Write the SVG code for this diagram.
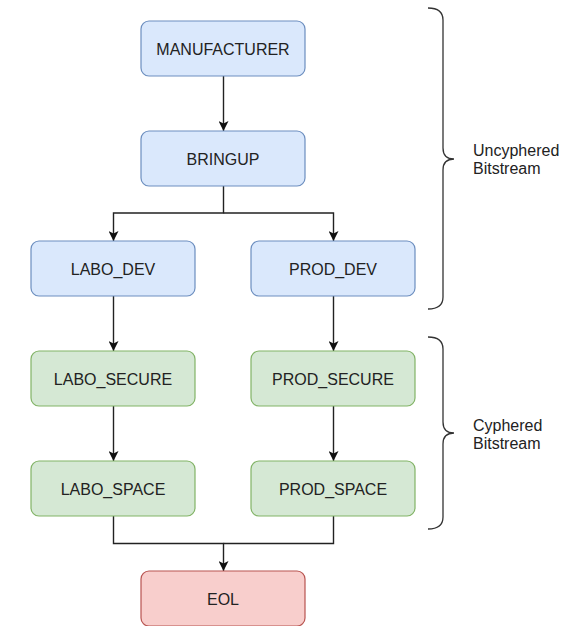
<svg xmlns="http://www.w3.org/2000/svg" width="582" height="626" viewBox="0 0 582 626">
  <style>
    .node rect { stroke-width: 1.2; }
    .blue rect { fill: #dae8fc; stroke: #6c8ebf; }
    .green rect { fill: #d5e8d4; stroke: #82b366; }
    .red rect { fill: #f8cecc; stroke: #b85450; }
    text { font-family: "Liberation Sans", Arial, sans-serif; font-size: 16px; fill: #222; }
    .node text { text-anchor: middle; }
    .edge { fill: none; stroke: #222; stroke-width: 1.4; }
    .brace { fill: none; stroke: #333; stroke-width: 1.3; }
  </style>
  <defs>
    <marker id="arrow" viewBox="0 0 10 10" refX="10" refY="5" markerWidth="10" markerHeight="10" markerUnits="userSpaceOnUse" orient="auto">
      <path d="M0,0 L10,5 L0,10 L2.5,5 Z" fill="#111"/>
    </marker>
  </defs>
  <rect width="582" height="626" fill="#ffffff"/>

  <!-- connectors -->
  <g id="connectors">
    <path class="edge" d="M223.5,76 V131" marker-end="url(#arrow)"/>
    <path class="edge" d="M223.5,186 V213 H113.5 V241" marker-end="url(#arrow)"/>
    <path class="edge" d="M223.5,213 H333.5 V241" marker-end="url(#arrow)"/>
    <path class="edge" d="M113.5,296 V351" marker-end="url(#arrow)"/>
    <path class="edge" d="M333.5,296 V351" marker-end="url(#arrow)"/>
    <path class="edge" d="M113.5,406 V461" marker-end="url(#arrow)"/>
    <path class="edge" d="M333.5,406 V461" marker-end="url(#arrow)"/>
    <path class="edge" d="M113.5,516 V543.5 H223.5 V571" marker-end="url(#arrow)"/>
    <path class="edge" d="M333.5,516 V543.5 H223.5"/>
  </g>

  <!-- nodes -->
  <g id="manufacturer" class="node blue">
    <rect x="141" y="21" width="164" height="55" rx="8"/>
    <text x="223" y="54.5">MANUFACTURER</text>
  </g>
  <g id="bringup" class="node blue">
    <rect x="141" y="131" width="164" height="55" rx="8"/>
    <text x="223" y="164.5">BRINGUP</text>
  </g>
  <g id="labo_dev" class="node blue">
    <rect x="31" y="241" width="164" height="55" rx="8"/>
    <text x="113" y="274.5">LABO_DEV</text>
  </g>
  <g id="prod_dev" class="node blue">
    <rect x="251" y="241" width="164" height="55" rx="8"/>
    <text x="333" y="274.5">PROD_DEV</text>
  </g>
  <g id="labo_secure" class="node green">
    <rect x="31" y="351" width="164" height="55" rx="8"/>
    <text x="113" y="384.5">LABO_SECURE</text>
  </g>
  <g id="prod_secure" class="node green">
    <rect x="251" y="351" width="164" height="55" rx="8"/>
    <text x="333" y="384.5">PROD_SECURE</text>
  </g>
  <g id="labo_space" class="node green">
    <rect x="31" y="461" width="164" height="55" rx="8"/>
    <text x="113" y="494.5">LABO_SPACE</text>
  </g>
  <g id="prod_space" class="node green">
    <rect x="251" y="461" width="164" height="55" rx="8"/>
    <text x="333" y="494.5">PROD_SPACE</text>
  </g>
  <g id="eol" class="node red">
    <rect x="141" y="571" width="164" height="55" rx="8"/>
    <text x="223" y="604.5">EOL</text>
  </g>

  <!-- group braces -->
  <g id="uncyphered">
    <path class="brace" d="M428,8 Q443,8 443,20 V148 Q443,159 454,159 Q443,159 443,170 V297 Q443,309 428,309"/>
    <text x="473" y="155.5">Uncyphered</text>
    <text x="473" y="174">Bitstream</text>
  </g>
  <g id="cyphered">
    <path class="brace" d="M428,337 Q443,337 443,349 V422 Q443,433 454,433 Q443,433 443,444 V517 Q443,529 428,529"/>
    <text x="473" y="430.5">Cyphered</text>
    <text x="473" y="449">Bitstream</text>
  </g>
</svg>
